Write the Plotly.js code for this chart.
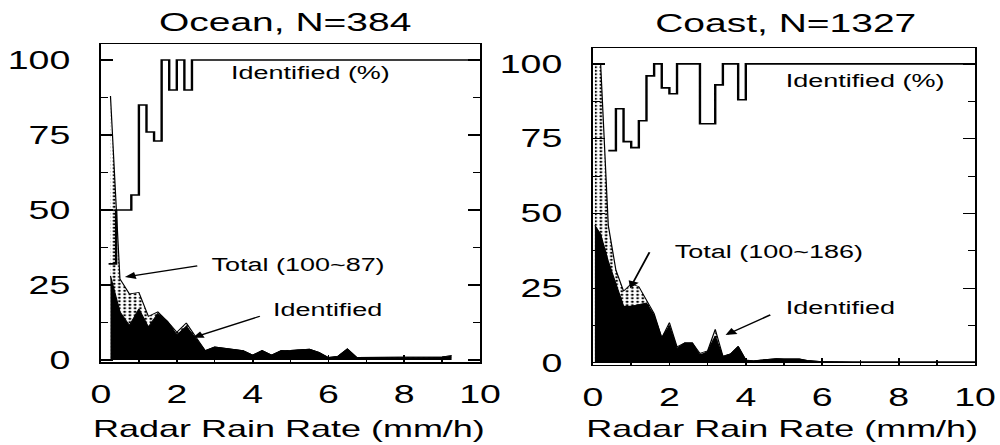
<!DOCTYPE html>
<html>
<head>
<meta charset="utf-8">
<script src="https://cdn.plot.ly/plotly-3.0.1.min.js"></script>
<style>
  html, body { margin: 0; padding: 0; background: #fff; }
  #wrap { width: 1000px; height: 445px; overflow: hidden; }
  #chart { width: 667px; height: 445px; transform: scaleX(1.49925); transform-origin: 0 0; }
</style>
</head>
<body>
<div id="wrap"><div id="chart"></div></div>
<script>
// ---------- data ----------
const panelTitles = ["Ocean, N=384", "Coast, N=1327"];
const xAxisTitle = "Radar Rain Rate (mm/h)";
const xTicks = [0, 2, 4, 6, 8, 10];
const xMinorTicks = [1, 3, 5, 7, 9];
const yTicks = [0, 25, 50, 75, 100];
const yMinorTicks = [12.5, 37.5, 62.5, 87.5];

// Ocean panel
const oceanRate  = [0.25,0.5,0.75,1.0,1.25,1.5,1.75,2.0,2.25,2.5,2.75,3.0,3.25,3.5,3.75,4.0,4.25,4.5,4.75,5.0,5.25,5.5,5.75,6.0,6.25,6.5,6.75,7.0,7.25,7.5,7.75,8.0,8.25,8.5,8.75,9.0,9.25];
const oceanTotal = [88,27,22,22.5,14.5,16,12.9,9.2,12.3,7.6,3.1,4.3,3.9,3.6,3.1,1.6,3.1,1.6,3.1,3.2,3.3,3.6,2.5,0.8,1.2,3.7,0.8,0.8,0.8,0.8,0.8,0.8,0.9,0.9,1.0,1.0,1.4];
const oceanIdent = [28,16,11.5,17,11,15.5,12.9,8.3,11.2,7.1,3.1,4.3,3.9,3.6,3.1,1.6,3.1,1.6,3.1,3.2,3.3,3.6,2.5,0.8,1.2,3.7,0.8,0.8,0.8,0.8,0.8,0.8,0.9,0.9,1.0,1.0,1.4];
const oceanPctEdge = [0.2,0.4,0.8,1.0,1.2,1.4,1.6,1.8,2.0,2.2,2.4,10];
const oceanPct     = [32,50,55,85,76,73,100,90,100,90,100,100];

// Coast panel
const coastRate  = [0.05,0.2,0.4,0.6,0.8,1.0,1.2,1.4,1.6,1.8,2.0,2.2,2.4,2.6,2.8,3.0,3.2,3.4,3.6,3.8,4.0,4.2,4.4,4.6,4.8,5.0,5.2,5.4,5.6,5.8,6.0,6.2,6.4,6.6,6.8,7.0,7.2,7.4,7.6,7.8,8.0,8.2,8.4,8.6,8.8,9.0,9.2,9.4,9.6,9.8,10.0];
const coastTotal = [100,100,46,31,24,26.5,25.5,21,16.5,8.4,13.5,5.4,6.7,6.7,3.2,4.0,11.2,2.3,3.0,5.5,1.0,0.7,1.0,1.3,1.4,1.3,1.4,1.3,0.8,0.5,0.4,0.4,0.3,0.3,0.3,0.3,0.3,0.3,0.3,0.3,0.3,0.3,0.3,0.3,0.3,0.3,0.3,0.3,0.3,0.3,0.3];
const coastIdent = [46,43,34,26,19,19,19.5,20,15.9,8.4,12.4,4.9,6.7,6.7,2.6,3.8,9.0,2.1,3.0,5.5,0.9,0.7,1.0,1.3,1.4,1.3,1.4,1.3,0.8,0.5,0.4,0.4,0.3,0.3,0.3,0.3,0.3,0.3,0.3,0.3,0.3,0.3,0.3,0.3,0.3,0.3,0.3,0.3,0.3,0.3,0.3];
const coastPctEdge = [0.4,0.6,0.8,1.0,1.2,1.4,1.6,1.8,2.0,2.2,2.8,3.2,3.4,3.8,4.0,10];
const coastPct     = [71,85,74,72,81,96,100,92,90,100,80,93,100,88,100,100];

// ---------- traces ----------
const FONT = "Liberation Sans, Arial, Helvetica, sans-serif";
function panelTraces(rate, total, ident, pctEdge, pct, xa, ya) {
  return [
    { x: rate, y: total, xaxis: xa, yaxis: ya, type: "scatter", mode: "lines",
      line: { color: "#000", width: 0.8 }, fill: "tozeroy", fillcolor: "#fff",
      fillpattern: { shape: ".", size: 3.5, solidity: 0.25, fgcolor: "#000", bgcolor: "#fff" },
      hoverinfo: "skip" },
    { x: rate, y: ident, xaxis: xa, yaxis: ya, type: "scatter", mode: "lines",
      line: { color: "#000", width: 0.8 }, fill: "tozeroy", fillcolor: "#000", hoverinfo: "skip" },
    { x: pctEdge, y: pct, xaxis: xa, yaxis: ya, type: "scatter", mode: "lines",
      line: { color: "#000", width: 1.6, shape: "hv" }, hoverinfo: "skip" }
  ];
}
const data = [].concat(
  panelTraces(oceanRate, oceanTotal, oceanIdent, oceanPctEdge, oceanPct, "x", "y"),
  panelTraces(coastRate, coastTotal, coastIdent, coastPctEdge, coastPct, "x2", "y2")
);

// ---------- layout ----------
function xAxis(domain, anchor) {
  return { domain: domain, anchor: anchor, range: [0, 10], tickmode: "array", tickvals: xTicks,
    ticks: "inside", ticklen: 7, tickwidth: 1.2, tickcolor: "#000",
    minor: { tickmode: "array", tickvals: xMinorTicks, ticks: "inside", ticklen: 5, tickwidth: 1, tickcolor: "#000" },
    showline: true, linecolor: "#000", linewidth: 1.5, mirror: true,
    showgrid: false, zeroline: false, ticklabelstandoff: 10,
    tickfont: { family: FONT, size: 25, color: "#000" } };
}
function yAxis(domain, anchor) {
  return { domain: domain, anchor: anchor, range: [-0.7, 105.3], tickmode: "array", tickvals: yTicks,
    ticks: "inside", ticklen: 8, tickwidth: 1.2, tickcolor: "#000",
    minor: { tickmode: "array", tickvals: yMinorTicks, ticks: "inside", ticklen: 5, tickwidth: 1, tickcolor: "#000" },
    showline: true, linecolor: "#000", linewidth: 1.5, mirror: "ticks",
    showgrid: false, zeroline: false, ticklabelstandoff: 14,
    tickfont: { family: FONT, size: 25, color: "#000" } };
}
function label(text, x, y, xr, yr, size, xanchor) {
  return { text: text, x: x, y: y, xref: xr, yref: yr, showarrow: false,
    xanchor: xanchor || "left", yanchor: "middle", font: { family: FONT, size: size, color: "#000" } };
}
function arrow(x, y, ax, ay, xr, yr) {
  return { text: "", x: x, y: y, ax: ax, ay: ay, xref: xr, yref: yr, axref: xr, ayref: yr,
    showarrow: true, arrowhead: 2, arrowsize: 1.1, arrowwidth: 1.3, arrowcolor: "#000",
    standoff: 0, startstandoff: 0 };
}

const annotations = [
  label(panelTitles[0], 0.285, 0.951, "paper", "paper", 26, "center"),
  label(panelTitles[1], 0.786, 0.948, "paper", "paper", 26, "center"),
  label(xAxisTitle, 0.288, 0.038, "paper", "paper", 24, "center"),
  label(xAxisTitle, 0.782, 0.038, "paper", "paper", 24, "center"),
  // Ocean
  label("Identified (%)", 3.35, 95.5, "x", "y", 18),
  label("Total (100~87)", 2.83, 31.7, "x", "y", 18),
  arrow(0.63, 27.6, 2.6, 31.5, "x", "y"),
  label("Identified", 4.45, 16.5, "x", "y", 18),
  arrow(2.42, 7.4, 4.25, 14.8, "x", "y"),
  // Coast
  label("Identified (%)", 4.97, 94.3, "x2", "y2", 18),
  label("Total (100~186)", 2.06, 37.2, "x2", "y2", 18),
  arrow(0.97, 25, 1.5, 37.5, "x2", "y2"),
  label("Identified", 4.96, 18.2, "x2", "y2", 18),
  arrow(3.47, 9.3, 4.7, 16.4, "x2", "y2")
];

const layout = {
  width: 667, height: 445,
  margin: { l: 0, r: 0, t: 0, b: 0 },
  paper_bgcolor: "#fff", plot_bgcolor: "#fff",
  showlegend: false,
  font: { family: FONT, color: "#000" },
  xaxis: xAxis([0.101, 0.48], "y"),
  yaxis: yAxis([0.1865, 0.901], "x"),
  xaxis2: xAxis([0.593, 0.975], "y2"),
  yaxis2: yAxis([0.1798, 0.892], "x2"),
  annotations: annotations
};

Plotly.newPlot("chart", data, layout, { staticPlot: true, displayModeBar: false });
</script>
</body>
</html>
